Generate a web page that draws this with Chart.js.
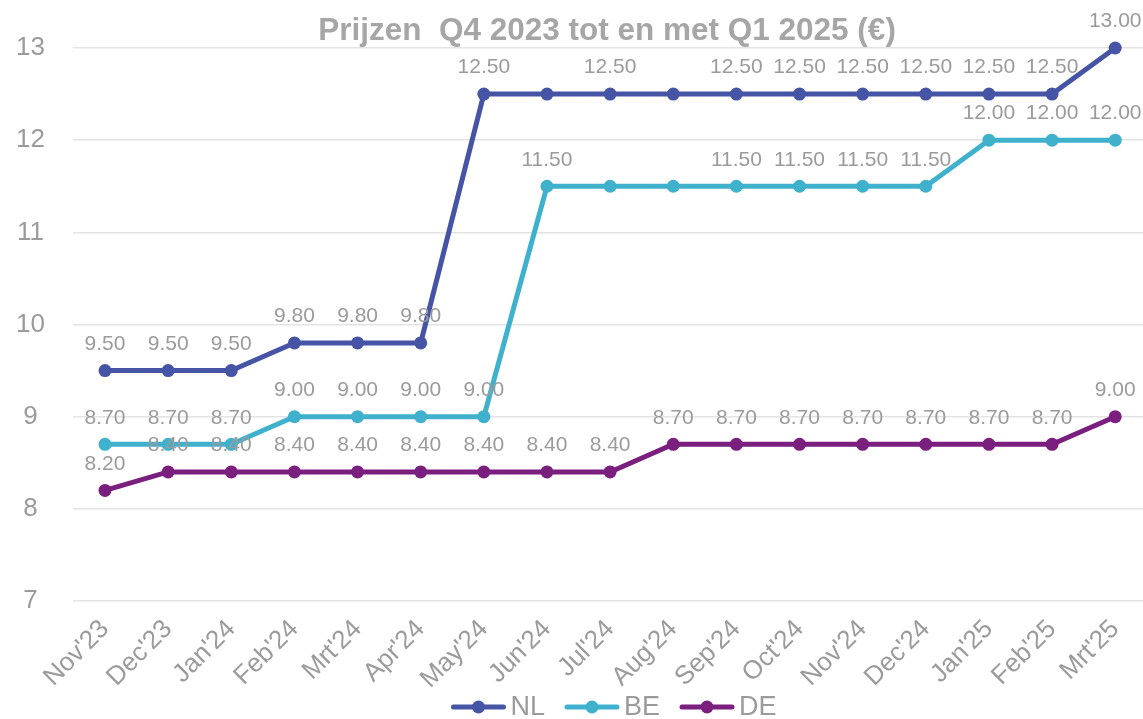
<!DOCTYPE html>
<html>
<head>
<meta charset="utf-8">
<script src="https://cdn.jsdelivr.net/npm/chart.js@4.4.1/dist/chart.umd.min.js"></script>
<style>
html,body{margin:0;padding:0;background:#fff;}
#wrap{width:1143px;height:719px;}
</style>
</head>
<body>
<div id="wrap"><canvas id="c" width="1143" height="719"></canvas></div>
<script>
const TITLE = "Prijzen  Q4 2023 tot en met Q1 2025 (€)";
const MONTHS = ["Nov'23","Dec'23","Jan'24","Feb'24","Mrt'24","Apr'24","May'24","Jun'24","Jul'24","Aug'24","Sep'24","Oct'24","Nov'24","Dec'24","Jan'25","Feb'25","Mrt'25"];
const SERIES_NAMES = ["NL","BE","DE"];
const NL = [9.50,9.50,9.50,9.80,9.80,9.80,12.50,12.50,12.50,12.50,12.50,12.50,12.50,12.50,12.50,12.50,13.00];
const BE = [8.70,8.70,8.70,9.00,9.00,9.00,9.00,11.50,11.50,11.50,11.50,11.50,11.50,11.50,12.00,12.00,12.00];
const DE = [8.20,8.40,8.40,8.40,8.40,8.40,8.40,8.40,8.40,8.70,8.70,8.70,8.70,8.70,8.70,8.70,9.00];
// which value labels are visible in the original (others were hidden)
const NL_SHOW = [1,1,1,1,1,1,1,0,1,0,1,1,1,1,1,1,1];
const BE_SHOW = [1,1,1,1,1,1,1,1,0,0,1,1,1,1,1,1,1];
const DE_SHOW = [1,1,1,1,1,1,1,1,1,1,1,1,1,1,1,1,1];
const Y_MIN = 7, Y_MAX = 13;

const COLORS = ["#4654a6","#3fb1cd","#7b1f7f"];
const GRAY = "#9b9b9b";
const FONT = "'Liberation Sans', Arial, sans-serif";

function mk(name, vals, show, color){
  return {
    label: name,
    data: vals.map((v,i)=>({x:i,y:v})),
    showLabels: show,
    borderColor: color,
    backgroundColor: color,
    borderWidth: 5,
    pointRadius: 6.5,
    pointHoverRadius: 6.5,
    pointBorderWidth: 0,
    pointBackgroundColor: color,
    tension: 0,
    pointStyle: 'circle',
    clip: false
  };
}

const valueLabels = {
  id: 'valueLabels',
  afterDatasetsDraw(chart){
    const ctx = chart.ctx;
    ctx.save();
    ctx.font = "21px " + FONT;
    ctx.fillStyle = GRAY;
    ctx.textAlign = 'center';
    ctx.textBaseline = 'bottom';
    chart.data.datasets.forEach((ds, di)=>{
      const meta = chart.getDatasetMeta(di);
      meta.data.forEach((pt, i)=>{
        if (!ds.showLabels[i]) return;
        ctx.fillText(ds.data[i].y.toFixed(2), pt.x, pt.y - 16);
      });
    });
    ctx.restore();
  }
};

const titlePlugin = {
  id: 'customTitle',
  afterDraw(chart){
    const ctx = chart.ctx;
    ctx.save();
    ctx.font = "bold 31.5px " + FONT;
    ctx.fillStyle = "#a6a6a6";
    ctx.textAlign = 'center';
    ctx.textBaseline = 'alphabetic';
    ctx.fillText(TITLE, 607, 40);
    ctx.restore();
  }
};

// legend drawn below the axis, centred under the plot like the original
const lineLegend = {
  id: 'lineLegend',
  afterDraw(chart){
    const ctx = chart.ctx;
    const ds = chart.data.datasets;
    const iconW = 54, gapIcon = 5, gapItem = 20;
    ctx.save();
    ctx.font = "27px " + FONT;
    const widths = ds.map(d => iconW + gapIcon + ctx.measureText(d.label).width);
    const total = widths.reduce((a,b)=>a+b,0) + gapItem*(ds.length-1);
    const cy = 707;
    let x = 614 - total/2;
    ds.forEach((d,i)=>{
      ctx.strokeStyle = d.borderColor;
      ctx.lineWidth = 5;
      ctx.lineCap = 'round';
      ctx.beginPath(); ctx.moveTo(x+2, cy); ctx.lineTo(x+iconW-2, cy); ctx.stroke();
      ctx.fillStyle = d.borderColor;
      ctx.beginPath(); ctx.arc(x+iconW/2, cy, 6.5, 0, Math.PI*2); ctx.fill();
      ctx.fillStyle = GRAY;
      ctx.textAlign = 'left';
      ctx.textBaseline = 'middle';
      ctx.fillText(d.label, x+iconW+gapIcon, cy+1);
      x += widths[i] + gapItem;
    });
    ctx.restore();
  }
};

new Chart(document.getElementById('c'), {
  type: 'line',
  data: {
    datasets: [
      mk(SERIES_NAMES[0], NL, NL_SHOW, COLORS[0]),
      mk(SERIES_NAMES[1], BE, BE_SHOW, COLORS[1]),
      mk(SERIES_NAMES[2], DE, DE_SHOW, COLORS[2])
    ]
  },
  options: {
    responsive: false,
    animation: false,
    events: [],
    layout: { autoPadding: false, padding: { top: 48, right: 0, bottom: 0, left: 0 } },
    scales: {
      x: {
        type: 'linear',
        min: -0.507,
        max: 16.44,
        grid: { display: false, drawTicks: false },
        border: { display: false },
        afterBuildTicks(scale){ scale.ticks = MONTHS.map((m,i)=>({value:i})); },
        afterFit(scale){ scale.height = 118; scale.paddingLeft = 0; scale.paddingRight = 0; },
        ticks: {
          autoSkip: false,
          maxRotation: 45,
          minRotation: 45,
          padding: 13,
          color: GRAY,
          font: { family: FONT, size: 26 },
          callback: (v)=> MONTHS[v]
        }
      },
      y: {
        min: Y_MIN,
        max: Y_MAX,
        afterFit(scale){ scale.width = 73; },
        grid: { color: '#e3e3e3', lineWidth: 1.5, drawTicks: false },
        border: { display: false },
        ticks: {
          stepSize: 1,
          padding: 28,
          color: GRAY,
          font: { family: FONT, size: 26 },
          crossAlign: 'center'
        }
      }
    },
    plugins: {
      title: { display: false },
      tooltip: { enabled: false },
      legend: { display: false }
    }
  },
  plugins: [valueLabels, titlePlugin, lineLegend]
});
</script>
</body>
</html>
